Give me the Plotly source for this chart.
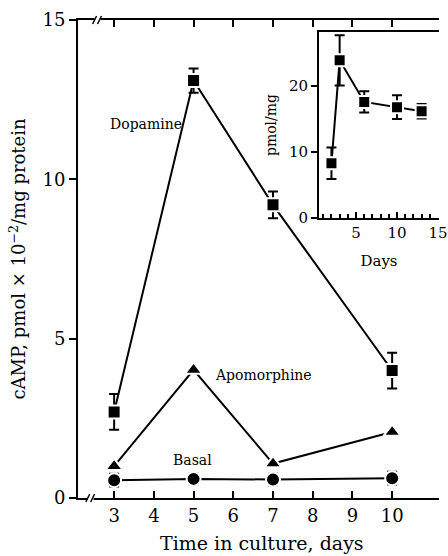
import plotly.graph_objects as go

days = [3, 5, 7, 10]
dopamine = [2.7, 13.1, 9.2, 4.0]
dopamine_err = [0.56, 0.38, 0.42, 0.56]
apomorphine = [1.0, 4.02, 1.08, 2.07]
basal = [0.56, 0.6, 0.58, 0.62]
basal_err = [0.2, 0.17, 0.18, 0.2]

inset_days = [2, 3, 6, 10, 13]
inset_vals = [8.3, 23.9, 17.6, 16.8, 16.2]
inset_err = [2.4, 3.8, 1.6, 1.8, 1.1]

FONT = "DejaVu Serif"
W, H = 448, 556
L, T, B = 78, 20, 498

def px(x):
    return (x - L) / (W - L)

def py(y):
    return (B - y) / (B - T)

fig = go.Figure()

def line_trace(x, y, xa="x", ya="y"):
    fig.add_trace(go.Scatter(x=x, y=y, mode="lines", line=dict(color="black", width=2),
                             xaxis=xa, yaxis=ya, showlegend=False, hoverinfo="skip"))

line_trace(days, dopamine)
line_trace(days, apomorphine)
line_trace(days, basal)
line_trace(inset_days, inset_vals, "x2", "y2")

def marker_trace(x, y, symbol, size, err=None, xa="x", ya="y"):
    fig.add_trace(go.Scatter(
        x=x, y=y, mode="markers",
        marker=dict(symbol=symbol, size=size, color="black",
                    line=dict(color="white", width=2)),
        error_y=(dict(type="data", array=err, color="black", thickness=2, width=5)
                 if err is not None else None),
        xaxis=xa, yaxis=ya, showlegend=False, hoverinfo="skip"))

marker_trace(days, apomorphine, "triangle-up", 15)
marker_trace(days, basal, "circle", 14, basal_err)
marker_trace(days, dopamine, "square", 13, dopamine_err)
marker_trace(inset_days, inset_vals, "square", 12, inset_err, "x2", "y2")

axis_font = dict(family=FONT, size=18, color="black")

fig.update_layout(
    width=W, height=H,
    margin=dict(l=L, r=0, t=T, b=H - B),
    paper_bgcolor="white", plot_bgcolor="white",
    font=dict(family=FONT, color="black"),
    xaxis=dict(range=[2.09, 11.18], domain=[0, 1], tickvals=[3, 4, 5, 6, 7, 8, 9, 10],
               ticks="inside", ticklen=7, tickwidth=2, tickcolor="black",
               showline=True, linecolor="black", linewidth=2, mirror="ticks",
               showgrid=False, zeroline=False, tickfont=axis_font),
    yaxis=dict(range=[0, 15], domain=[0, 1], tickvals=[0, 5, 10, 15],
               ticks="outside", ticklen=7, tickwidth=2, tickcolor="black",
               showline=True, linecolor="black", linewidth=2, mirror=False,
               showgrid=False, zeroline=False, tickfont=axis_font,
               title=dict(text="cAMP, pmol × 10<sup>−2</sup>/mg protein",
                          font=dict(family=FONT, size=18), standoff=12)),
    xaxis2=dict(range=[0.48, 15.12], domain=[px(325), 1], anchor="y2",
                tickvals=[5, 10, 15], ticks="inside", ticklen=6, tickwidth=2, tickcolor="black",
                minor=dict(dtick=1, tick0=0, ticks="inside", ticklen=4, tickwidth=1.5, tickcolor="black"),
                showline=True, linecolor="black", linewidth=2, mirror=True,
                showgrid=False, zeroline=False, ticklabeloverflow="allow",
                tickfont=dict(family=FONT, size=15, color="black"),
                title=dict(text="Days", font=dict(family=FONT, size=15), standoff=14)),
    yaxis2=dict(range=[0, 28.2], domain=[py(218), py(32)], anchor="x2",
                tickvals=[0, 10, 20], ticks="outside", ticklen=6, tickwidth=2, tickcolor="black",
                showline=True, linecolor="black", linewidth=2, mirror=False,
                showgrid=False, zeroline=False,
                tickfont=dict(family=FONT, size=15, color="black"),
                title=dict(text="pmol/mg", font=dict(family=FONT, size=14), standoff=9)),
)

shapes = []
for (cx, cy) in [(91, B), (98, T)]:
    shapes.append(dict(type="rect", xref="paper", yref="paper",
                       x0=px(cx - 3), x1=px(cx + 3), y0=py(cy + 2), y1=py(cy - 2),
                       line=dict(width=0), fillcolor="white", layer="above"))
    for dx in (-3, 2):
        shapes.append(dict(type="line", xref="paper", yref="paper",
                           x0=px(cx + dx - 2), y0=py(cy + 4), x1=px(cx + dx + 2), y1=py(cy - 4),
                           line=dict(color="black", width=1.5), layer="above"))
fig.update_layout(shapes=shapes)

fig.add_annotation(x=px(267), y=py(543), xref="paper", yref="paper", text="Time in culture, days",
                   xanchor="center", yanchor="middle",
                   showarrow=False, font=dict(family=FONT, size=19, color="black"))

lab_font = dict(family=FONT, size=14, color="black")
fig.add_annotation(x=3.8, y=11.75, text="Dopamine", showarrow=False, font=lab_font, xref="x", yref="y")
fig.add_annotation(x=6.76, y=3.86, text="Apomorphine", showarrow=False, font=lab_font, xref="x", yref="y")
fig.add_annotation(x=4.97, y=1.19, text="Basal", showarrow=False, font=lab_font, xref="x", yref="y")

fig.write_html("out.html")
